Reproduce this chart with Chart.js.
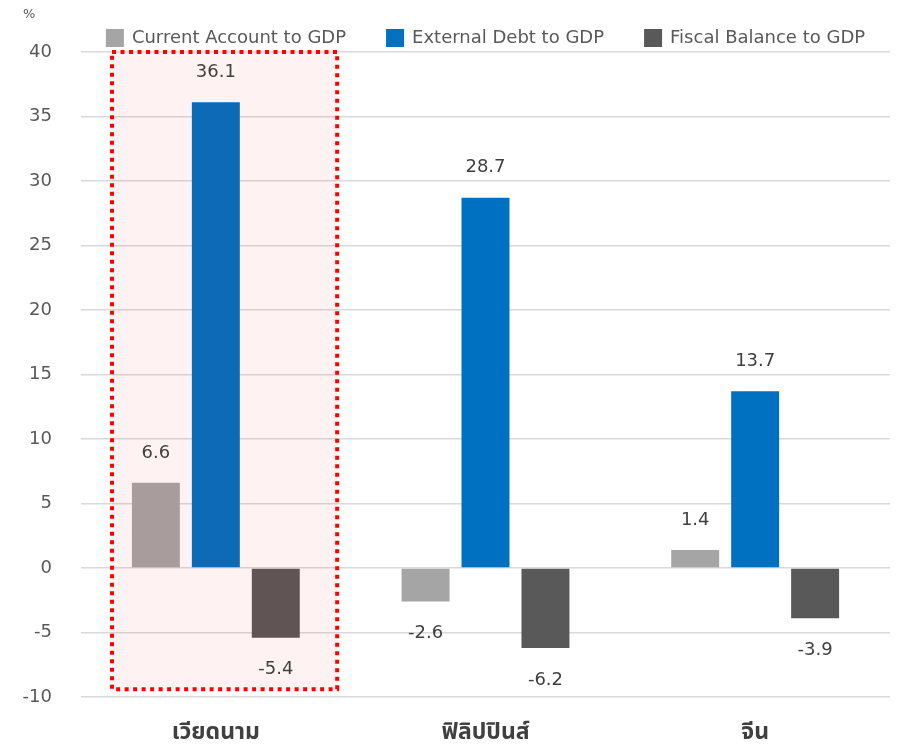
<!DOCTYPE html>
<html>
<head>
<meta charset="utf-8">
<script src="https://cdn.jsdelivr.net/npm/chart.js@4"></script>
<style>
  body { margin: 0; background: #fff; }
  canvas { display: block; }
</style>
</head>
<body>
<canvas id="chart" width="903" height="745"></canvas>
<script>
const categories = ['เวียดนาม', 'ฟิลิปปินส์', 'จีน'];
const seriesNames = ['Current Account to GDP', 'External Debt to GDP', 'Fiscal Balance to GDP'];
const currentAccount = [6.6, -2.6, 1.4];
const externalDebt = [36.1, 28.7, 13.7];
const fiscalBalance = [-5.4, -6.2, -3.9];
const seriesColors = ['#A5A5A5', '#0070C0', '#595959'];
const yMin = -10, yMax = 40, yStep = 5;
const highlightIndex = 0;   // Vietnam gets the red dotted box
const highlightBottom = -9.4;

const numFont = '"DejaVu Sans", sans-serif';

// pink box + red dots around the highlighted group
const highlightBox = {
  id: 'highlightBox',
  afterDatasetsDraw(chart){
    const {ctx, scales:{x, y}} = chart;
    const xc = x.getPixelForValue(highlightIndex);
    const w = x.getPixelForValue(1) - x.getPixelForValue(0);
    const left = xc - 0.385*w, right = xc + 0.45*w;
    const top = y.getPixelForValue(yMax), bottom = y.getPixelForValue(highlightBottom);
    ctx.save();
    ctx.fillStyle = 'rgba(255,0,0,0.05)';
    ctx.fillRect(left, top, right-left, bottom-top);
    ctx.strokeStyle = '#FF0000';
    ctx.lineWidth = 4;
    ctx.setLineDash([4,4.5]);
    ctx.strokeRect(left, top, right-left, bottom-top);
    ctx.restore();
  }
};

// value labels above / below bars
const valueLabels = {
  id: 'valueLabels',
  afterDatasetsDraw(chart){
    const ctx = chart.ctx;
    ctx.save();
    ctx.font = '18px ' + numFont;
    ctx.fillStyle = '#404040';
    ctx.textAlign = 'center';
    ctx.textBaseline = 'middle';
    chart.data.datasets.forEach((ds, i) => {
      chart.getDatasetMeta(i).data.forEach((bar, j) => {
        const v = ds.data[j];
        const ty = v >= 0 ? bar.y - 30 : bar.y + 32;
        ctx.fillText(String(v), bar.x, ty);
      });
    });
    ctx.restore();
  }
};

// legend row + "%" unit label
const topLegend = {
  id: 'topLegend',
  afterDraw(chart){
    const ctx = chart.ctx;
    ctx.save();
    ctx.font = '13px ' + numFont;
    ctx.fillStyle = '#595959';
    ctx.textBaseline = 'middle';
    ctx.fillText('%', 23, 15);

    ctx.font = '18px ' + numFont;
    const box = 18, gap = 8, spacing = 40;
    const widths = seriesNames.map(n => box + gap + ctx.measureText(n).width);
    const total = widths.reduce((a,b)=>a+b,0) + spacing*(seriesNames.length-1);
    let x = (chart.chartArea.left + chart.chartArea.right)/2 - total/2;
    const cy = 38;
    seriesNames.forEach((n, i) => {
      ctx.fillStyle = seriesColors[i];
      ctx.fillRect(x, cy - box/2, box, box);
      ctx.fillStyle = '#595959';
      ctx.fillText(n, x + box + gap, cy);
      x += widths[i] + spacing;
    });
    ctx.restore();
  }
};

const chart = new Chart(document.getElementById('chart'), {
  type: 'bar',
  data: {
    labels: categories,
    datasets: [
      { label: seriesNames[0], data: currentAccount, backgroundColor: seriesColors[0] },
      { label: seriesNames[1], data: externalDebt, backgroundColor: seriesColors[1] },
      { label: seriesNames[2], data: fiscalBalance, backgroundColor: seriesColors[2] }
    ]
  },
  options: {
    responsive: false,
    animation: false,
    devicePixelRatio: 1,
    layout: { padding: { top: 52, right: 13, bottom: 0, left: 0 } },
    datasets: { bar: { categoryPercentage: 0.667, barPercentage: 0.8 } },
    plugins: { legend: { display: false }, tooltip: { enabled: false } },
    scales: {
      x: {
        grid: { display: false },
        border: { display: false },
        ticks: {
          padding: 16,
          color: '#404040',
          font: { family: '"Noto Sans Thai", "Noto Sans", sans-serif', size: 23, weight: 'bold' }
        },
        afterFit(scale){ scale.height = 48; }
      },
      y: {
        min: yMin, max: yMax,
        grid: { color: '#D9D9D9', lineWidth: 1.5, drawTicks: false },
        border: { display: false },
        ticks: {
          stepSize: yStep,
          padding: 29,
          color: '#595959',
          font: { family: numFont, size: 18 }
        },
        afterFit(scale){ scale.width = 81; }
      }
    }
  },
  plugins: [highlightBox, valueLabels, topLegend]
});
</script>
</body>
</html>
